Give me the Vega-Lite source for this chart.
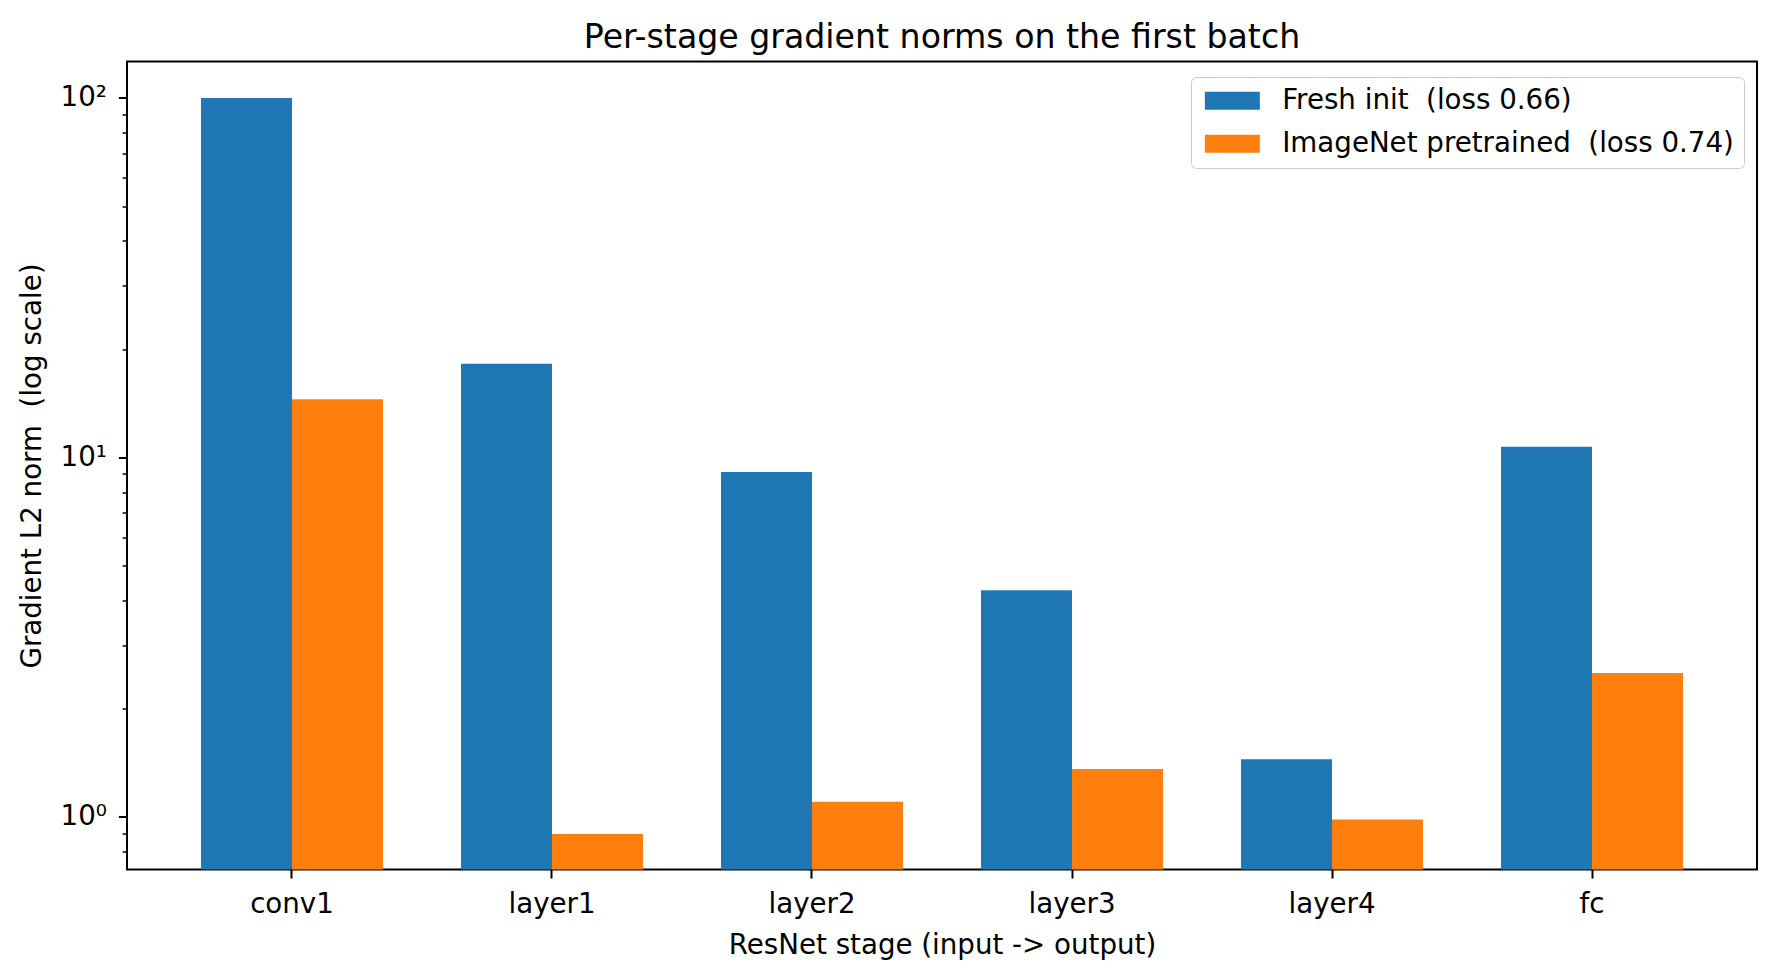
{
  "$schema": "https://vega.github.io/schema/vega-lite/v6.json",
  "width": 1630,
  "height": 808,
  "autosize": {"type": "none"},
  "padding": {"left": 127, "top": 61.5, "right": 20, "bottom": 107.5},
  "background": "white",
  "title": {
    "text": "Per-stage gradient norms on the first batch",
    "font": "DejaVu Sans",
    "fontSize": 33.2,
    "fontWeight": "normal",
    "color": "black",
    "anchor": "middle",
    "baseline": "bottom",
    "offset": -27
  },
  "data": {
    "values": [
      {"stage": "conv1", "series": "Fresh init \u00a0(loss 0.66)", "norm": 100},
      {"stage": "conv1", "series": "ImageNet pretrained \u00a0(loss 0.74)", "norm": 14.5},
      {"stage": "layer1", "series": "Fresh init \u00a0(loss 0.66)", "norm": 18.2},
      {"stage": "layer1", "series": "ImageNet pretrained \u00a0(loss 0.74)", "norm": 0.895},
      {"stage": "layer2", "series": "Fresh init \u00a0(loss 0.66)", "norm": 9.1},
      {"stage": "layer2", "series": "ImageNet pretrained \u00a0(loss 0.74)", "norm": 1.1},
      {"stage": "layer3", "series": "Fresh init \u00a0(loss 0.66)", "norm": 4.27},
      {"stage": "layer3", "series": "ImageNet pretrained \u00a0(loss 0.74)", "norm": 1.357},
      {"stage": "layer4", "series": "Fresh init \u00a0(loss 0.66)", "norm": 1.445},
      {"stage": "layer4", "series": "ImageNet pretrained \u00a0(loss 0.74)", "norm": 0.983},
      {"stage": "fc", "series": "Fresh init \u00a0(loss 0.66)", "norm": 10.7},
      {"stage": "fc", "series": "ImageNet pretrained \u00a0(loss 0.74)", "norm": 2.51}
    ]
  },
  "mark": {"type": "bar"},
  "encoding": {
    "x": {
      "field": "stage",
      "type": "nominal",
      "sort": ["conv1", "layer1", "layer2", "layer3", "layer4", "fc"],
      "scale": {"paddingInner": 0.3, "paddingOuter": 0.2846},
      "axis": {
        "title": "ResNet stage (input -> output)",
        "titleFont": "DejaVu Sans",
        "titleFontSize": 27.7,
        "titleFontWeight": "normal",
        "titleColor": "black",
        "titlePadding": 14,
        "labelFont": "DejaVu Sans",
        "labelFontSize": 27.7,
        "labelColor": "black",
        "labelAngle": 0,
        "labelPadding": 12,
        "tickColor": "black",
        "tickSize": 8.6,
        "tickWidth": 2,
        "domain": false,
        "grid": false
      }
    },
    "xOffset": {
      "field": "series",
      "type": "nominal",
      "sort": ["Fresh init \u00a0(loss 0.66)", "ImageNet pretrained \u00a0(loss 0.74)"],
      "scale": {"paddingInner": 0, "paddingOuter": 0}
    },
    "y": {
      "field": "norm",
      "type": "quantitative",
      "scale": {"type": "log", "domain": [0.713, 126.3], "nice": false},
      "axis": {
        "title": "Gradient L2 norm \u00a0(log scale)",
        "titleFont": "DejaVu Sans",
        "titleFontSize": 27.7,
        "titleFontWeight": "normal",
        "titleColor": "black",
        "titleX": -95,
        "titleY": 404,
        "titleAngle": 270,
        "titleAlign": "center",
        "titleBaseline": "middle",
        "values": [0.8, 0.9, 1, 2, 3, 4, 5, 6, 7, 8, 9, 10, 20, 30, 40, 50, 60, 70, 80, 90, 100],
        "labelExpr": "datum.value == 1 ? '10⁰' : datum.value == 10 ? '10¹' : datum.value == 100 ? '10²' : ''",
        "labelFont": "DejaVu Sans",
        "labelFontSize": 27.7,
        "labelColor": "black",
        "labelPadding": 12,
        "labelBaseline": "middle",
        "tickColor": "black",
        "tickSize": {"condition": {"test": "datum.value == 1 || datum.value == 10 || datum.value == 100", "value": 8.6}, "value": 4.9},
        "tickWidth": {"condition": {"test": "datum.value == 1 || datum.value == 10 || datum.value == 100", "value": 2}, "value": 1.5},
        "domain": false,
        "grid": false
      }
    },
    "y2": {"datum": 0.713},
    "color": {
      "field": "series",
      "type": "nominal",
      "sort": ["Fresh init \u00a0(loss 0.66)", "ImageNet pretrained \u00a0(loss 0.74)"],
      "scale": {"range": ["#1f77b4", "#ff7f0e"]},
      "legend": {
        "title": null,
        "orient": "none",
        "legendX": 1064,
        "legendY": 15.5,
        "symbolType": "M-1,-0.9H4.5V0.9H-1Z",
        "symbolSize": 400,
        "symbolStrokeWidth": 0,
        "symbolOpacity": 1,
        "labelOffset": 53.5,
        "labelFont": "DejaVu Sans",
        "labelFontSize": 27.7,
        "labelColor": "black",
        "labelLimit": 1000,
        "rowPadding": 14,
        "padding": 10,
        "strokeColor": "#cccccc",
        "fillColor": "white",
        "cornerRadius": 5
      }
    }
  },
  "config": {
    "view": {"stroke": "black", "strokeWidth": 2},
    "font": "DejaVu Sans"
  }
}
